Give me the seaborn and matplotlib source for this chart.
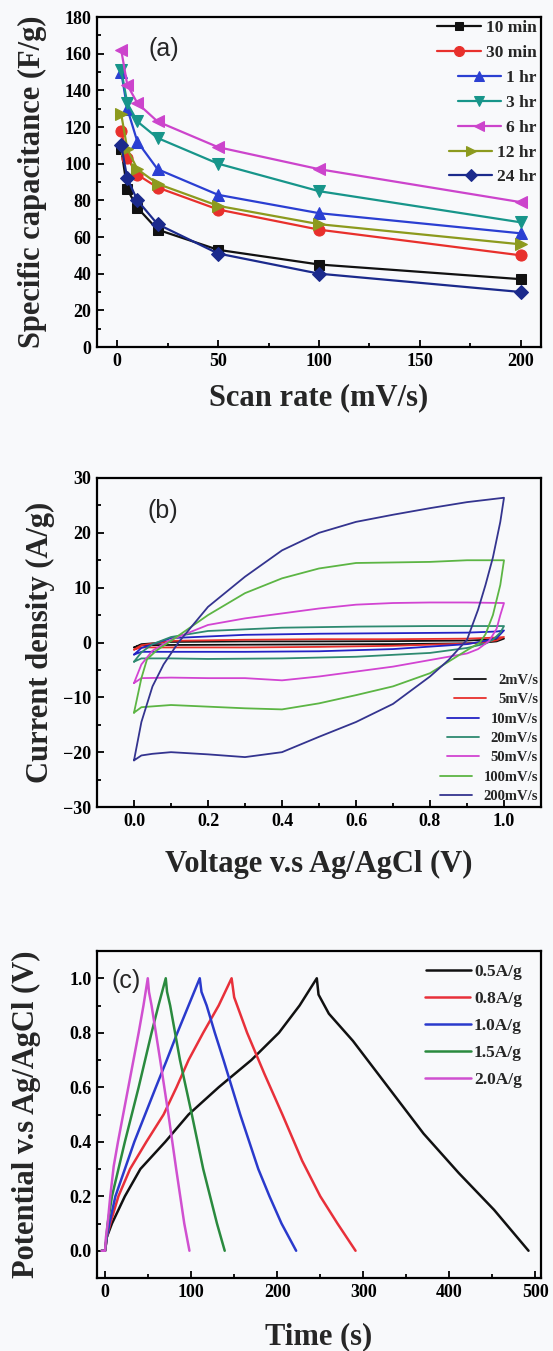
import matplotlib
matplotlib.use("Agg")
import matplotlib.pyplot as plt
import numpy as np
import pandas as pd
import seaborn as sns
from matplotlib.ticker import AutoMinorLocator, MultipleLocator

# ---------------- data: panel (a) ----------------
scan_rates = [2, 5, 10, 20, 50, 100, 200]
series_a_labels = ["10 min", "30 min", "1 hr", "3 hr", "6 hr", "12 hr", "24 hr"]
cap_10min = [108, 86, 76, 64, 53, 45, 37]
cap_30min = [118, 103, 94, 87, 75, 64, 50]
cap_1hr = [150, 130, 112, 97, 83, 73, 62]
cap_3hr = [151, 133, 123, 114, 100, 85, 68]
cap_6hr = [162, 143, 133, 123, 109, 97, 79]
cap_12hr = [127, 108, 97, 89, 77, 67, 56]
cap_24hr = [110, 92, 80, 67, 51, 40, 30]

# ---------------- data: panel (b) CV loops ----------------
cv_labels = ["2mV/s", "5mV/s", "10mV/s", "20mV/s", "50mV/s", "100mV/s", "200mV/s"]
cv_v_small = [0.0, 0.02, 0.1, 0.3, 0.5, 0.7, 0.9, 0.98, 1.0, 0.98, 0.95, 0.9, 0.7, 0.5, 0.3, 0.1, 0.02, 0.0]
cv_i_2 = [-0.9, -0.3, 0.1, 0.2, 0.2, 0.25, 0.35, 0.6, 0.7, 0.2, 0.0, -0.15, -0.3, -0.35, -0.4, -0.45, -0.5, -0.9]
cv_i_5 = [-1.3, -0.5, 0.3, 0.5, 0.6, 0.6, 0.7, 0.9, 1.0, 0.4, 0.1, -0.2, -0.6, -0.8, -0.9, -0.9, -0.9, -1.3]
cv_i_10 = [-2.2, -1.0, 0.8, 1.4, 1.6, 1.7, 1.8, 2.0, 2.2, 0.8, 0.3, -0.3, -1.2, -1.6, -1.7, -1.7, -1.7, -2.2]
cv_v_20 = [0.0, 0.02, 0.05, 0.1, 0.2, 0.4, 0.6, 0.8, 0.95, 1.0, 0.99, 0.97, 0.95, 0.9, 0.8, 0.6, 0.4, 0.2, 0.1, 0.02, 0.0]
cv_i_20 = [-3.5, -1.8, -0.3, 1.0, 2.1, 2.7, 2.9, 3.0, 3.0, 3.0, 1.8, 0.5, -0.2, -1.0, -1.9, -2.6, -2.9, -3.0, -2.9, -2.9, -3.5]
cv_v_50 = [0.0, 0.02, 0.05, 0.1, 0.2, 0.3, 0.4, 0.5, 0.6, 0.7, 0.8, 0.9, 1.0, 0.99, 0.98, 0.96, 0.93, 0.9,
           0.8, 0.7, 0.6, 0.5, 0.4, 0.3, 0.2, 0.1, 0.02, 0.0]
cv_i_50 = [-7.4, -4.0, -1.5, 0.5, 3.2, 4.4, 5.3, 6.2, 6.9, 7.2, 7.3, 7.3, 7.2, 5.0, 2.5, 0.3, -1.2, -2.0,
           -3.2, -4.4, -5.3, -6.2, -6.9, -6.5, -6.5, -6.4, -6.5, -7.4]
cv_v_100 = [0.0, 0.02, 0.035, 0.06, 0.1, 0.2, 0.3, 0.4, 0.5, 0.6, 0.7, 0.8, 0.9, 1.0, 0.99, 0.97, 0.95, 0.935,
            0.9, 0.8, 0.7, 0.6, 0.5, 0.4, 0.3, 0.2, 0.1, 0.02, 0.0]
cv_i_100 = [-12.8, -6.5, -3.1, -1.5, 0.3, 5.0, 9.0, 11.7, 13.5, 14.5, 14.6, 14.7, 15.0, 15.0, 10.5, 5.0, 1.5, 0.0,
            -1.4, -5.6, -8.0, -9.6, -11.1, -12.2, -12.0, -11.7, -11.4, -11.8, -12.8]
cv_v_200 = [0.0, 0.02, 0.05, 0.08, 0.12, 0.2, 0.3, 0.4, 0.5, 0.6, 0.7, 0.8, 0.9, 1.0, 0.99, 0.97, 0.95, 0.93,
            0.9, 0.85, 0.8, 0.7, 0.6, 0.5, 0.4, 0.3, 0.2, 0.1, 0.05, 0.02, 0.0]
cv_i_200 = [-21.5, -14.5, -8.0, -4.0, 0.0, 6.5, 12.0, 16.8, 20.0, 22.0, 23.3, 24.5, 25.6, 26.4, 22.0, 15.5, 10.5, 6.0,
            0.5, -3.2, -6.2, -11.2, -14.5, -17.2, -20.0, -20.9, -20.4, -20.0, -20.3, -20.6, -21.5]

# ---------------- data: panel (c) GCD ----------------
gcd_labels = ["0.5A/g", "0.8A/g", "1.0A/g", "1.5A/g", "2.0A/g"]
t_05 = [-4, 0, 2, 8, 23, 41, 70, 97, 132, 170, 202, 226, 246, 248, 260, 288, 329, 370, 411, 452, 492]
v_05 = [0, 0, 0.05, 0.1, 0.2, 0.3, 0.4, 0.5, 0.6, 0.7, 0.8, 0.9, 1.0, 0.94, 0.87, 0.77, 0.6, 0.43, 0.285, 0.15, 0.0]
t_08 = [-4, 0, 2, 6, 15.5, 29, 48, 68, 83, 97, 114, 132, 147, 150, 165, 185, 206, 229, 250, 270, 291]
v_08 = [0, 0, 0.05, 0.1, 0.2, 0.3, 0.4, 0.5, 0.6, 0.7, 0.8, 0.9, 1.0, 0.93, 0.8, 0.65, 0.5, 0.33, 0.2, 0.1, 0.0]
t_10 = [-4, 0, 2, 5, 12, 23, 34, 46.5, 59, 71.7, 84, 97, 110, 112, 118, 127.5, 137.6, 157, 178, 191, 205, 222]
v_10 = [0, 0, 0.05, 0.1, 0.2, 0.3, 0.4, 0.5, 0.6, 0.7, 0.8, 0.9, 1.0, 0.95, 0.9, 0.8, 0.7, 0.5, 0.3, 0.2, 0.1, 0.0]
t_15 = [-4, 0, 1.5, 3, 8, 15.5, 23, 31, 39, 46.5, 54, 62, 70.5, 72, 75.6, 87, 100.8, 114, 130, 139]
v_15 = [0, 0, 0.05, 0.1, 0.2, 0.3, 0.4, 0.5, 0.6, 0.7, 0.8, 0.9, 1.0, 0.95, 0.9, 0.7, 0.5, 0.3, 0.1, 0.0]
t_20 = [-4, 0, 1, 3, 6, 10, 15, 21, 27, 33, 39, 44.6, 49.6, 51, 54, 64, 73.6, 82.6, 92, 98]
v_20 = [0, 0, 0.05, 0.1, 0.2, 0.31, 0.4, 0.5, 0.6, 0.7, 0.8, 0.9, 1.0, 0.95, 0.9, 0.7, 0.5, 0.3, 0.1, 0.0]

# ---------------- style ----------------
sns.set_theme(style="ticks")
plt.rcParams["font.family"] = ["Liberation Serif", "DejaVu Serif"]
plt.rcParams["font.weight"] = "bold"
plt.rcParams["axes.labelweight"] = "bold"
BG = "#f8f9fb"

fig = plt.figure(figsize=(5.53, 13.51), dpi=100, facecolor=BG)
W, H = 553.0, 1351.0


def make_ax(top, bottom):
    ax = fig.add_axes([97 / W, 1 - bottom / H, 444 / W, (bottom - top) / H])
    ax.set_facecolor(BG)
    for s in ax.spines.values():
        s.set_linewidth(1.6)
        s.set_color("black")
    ax.tick_params(which="both", direction="in", top=False, right=False,
                   labelsize=13, width=1.3, colors="black")
    ax.tick_params(which="major", length=5, pad=4)
    ax.tick_params(which="minor", length=3)
    ax.xaxis.set_minor_locator(AutoMinorLocator(2))
    ax.yaxis.set_minor_locator(AutoMinorLocator(2))
    return ax


def finish_ticks(ax):
    for lab in ax.get_xticklabels() + ax.get_yticklabels():
        lab.set_fontweight("bold")


def right_align(leg):
    for col in leg._legend_handle_box.get_children():
        col.align = "right"


# ---------------- panel (a) ----------------
ax = make_ax(17, 347)
a_vals = [cap_10min, cap_30min, cap_1hr, cap_3hr, cap_6hr, cap_12hr, cap_24hr]
a_colors = ["#111111", "#e8302c", "#2b3fd2", "#17958a", "#cc44cc", "#8c9a1e", "#1b2a8c"]
a_markers = ["s", "o", "^", "v", "<", ">", "D"]
a_msize = [7, 8, 8, 8, 8, 8, 7]
for vals, col, mk, ms, lab in zip(a_vals, a_colors, a_markers, a_msize, series_a_labels):
    sns.lineplot(x=scan_rates, y=vals, ax=ax, color=col, marker=mk, markersize=ms,
                 markeredgecolor=col, linewidth=1.6, label=lab, estimator=None)
ax.set_xlim(-10, 210)
ax.set_ylim(0, 180)
ax.xaxis.set_major_locator(MultipleLocator(50))
ax.yaxis.set_major_locator(MultipleLocator(20))
ax.set_xlabel("Scan rate (mV/s)", fontsize=22, fontweight="bold")
ax.set_ylabel("Specific capacitance (F/g)", fontsize=22, fontweight="bold")
ax.xaxis.set_label_coords(0.5, -0.11)
ax.yaxis.set_label_coords(-0.112, 0.5)
ax.text(23, 162.5, "(a)", fontsize=18, family="Liberation Sans", fontweight="normal",
        ha="center", va="center")
leg = ax.legend(loc="upper right", bbox_to_anchor=(0.99, 0.99), frameon=False,
                prop={"family": "Liberation Serif", "weight": "bold", "size": 12.5},
                handlelength=2.5, handletextpad=0.3, labelspacing=0.5,
                borderpad=0, borderaxespad=0, markerscale=0.9)
right_align(leg)
finish_ticks(ax)

# ---------------- panel (b) ----------------
ax = make_ax(478, 807)
b_v = [cv_v_small, cv_v_small, cv_v_small, cv_v_20, cv_v_50, cv_v_100, cv_v_200]
b_i = [cv_i_2, cv_i_5, cv_i_10, cv_i_20, cv_i_50, cv_i_100, cv_i_200]
b_colors = ["#111111", "#e8302c", "#2323c4", "#2e8a70", "#d244d2", "#5cb544", "#34348f"]
for v, i, col, lab in zip(b_v, b_i, b_colors, cv_labels):
    sns.lineplot(x=v, y=i, ax=ax, color=col, linewidth=1.3, sort=False,
                 estimator=None, label=lab)
ax.set_xlim(-0.1, 1.1)
ax.set_ylim(-30, 30)
ax.xaxis.set_major_locator(MultipleLocator(0.2))
ax.yaxis.set_major_locator(MultipleLocator(10))
ax.xaxis.set_major_formatter(matplotlib.ticker.FormatStrFormatter("%.1f"))
ax.set_xlabel("Voltage v.s Ag/AgCl (V)", fontsize=22, fontweight="bold")
ax.set_ylabel("Current density (A/g)", fontsize=22, fontweight="bold")
ax.xaxis.set_label_coords(0.5, -0.13)
ax.yaxis.set_label_coords(-0.095, 0.5)
ax.text(0.078, 23.9, "(b)", fontsize=18, family="Liberation Sans", fontweight="normal",
        ha="center", va="center")
leg = ax.legend(loc="lower right", bbox_to_anchor=(0.993, 0.012), frameon=False,
                prop={"family": "Liberation Serif", "weight": "bold", "size": 10.5},
                handlelength=2.2, handletextpad=0.8, labelspacing=0.42,
                borderpad=0, borderaxespad=0)
right_align(leg)
finish_ticks(ax)

# ---------------- panel (c) ----------------
ax = make_ax(951, 1278)
c_t = [t_05, t_08, t_10, t_15, t_20]
c_v = [v_05, v_08, v_10, v_15, v_20]
c_colors = ["#111111", "#e8303a", "#2a3acc", "#2a8a3e", "#d050d0"]
for t, v, col, lab in zip(c_t, c_v, c_colors, gcd_labels):
    sns.lineplot(x=t, y=v, ax=ax, color=col, linewidth=1.8, sort=False,
                 estimator=None, label=lab)
ax.set_xlim(-9.4, 506.5)
ax.set_ylim(-0.1, 1.1)
ax.xaxis.set_major_locator(MultipleLocator(100))
ax.yaxis.set_major_locator(MultipleLocator(0.2))
ax.yaxis.set_major_formatter(matplotlib.ticker.FormatStrFormatter("%.1f"))
ax.set_xlabel("Time (s)", fontsize=22, fontweight="bold")
ax.set_ylabel("Potential v.s Ag/AgCl (V)", fontsize=22, fontweight="bold")
ax.xaxis.set_label_coords(0.5, -0.135)
ax.yaxis.set_label_coords(-0.125, 0.5)
ax.text(25, 0.99, "(c)", fontsize=18, family="Liberation Sans", fontweight="normal",
        ha="center", va="center")
leg = ax.legend(loc="upper right", bbox_to_anchor=(0.957, 0.96), frameon=False,
                prop={"family": "Liberation Serif", "weight": "bold", "size": 12.5},
                handlelength=2.6, handletextpad=0.2, labelspacing=0.62,
                borderpad=0, borderaxespad=0)
right_align(leg)
finish_ticks(ax)

fig.savefig("out.png", dpi=100, facecolor=BG)
